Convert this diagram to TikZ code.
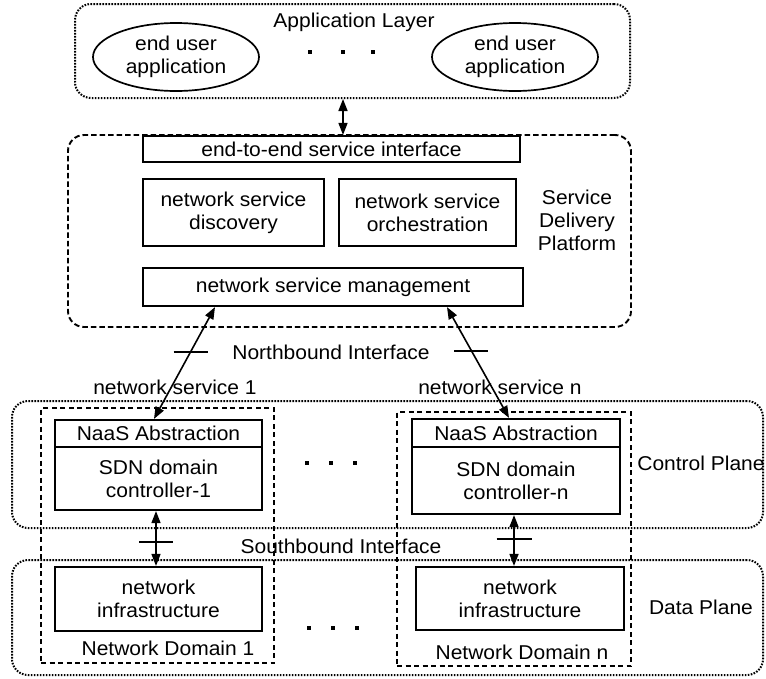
\documentclass[tikz,border=0pt]{standalone}
\usepackage{fontspec}
\setmainfont[FakeStretch=1.05]{Liberation Sans}
\usetikzlibrary{arrows.meta,shapes.geometric,calc}

\tikzset{
  every node/.style={font=\fontsize{20}{23}\selectfont, align=center, inner sep=0pt},
  box/.style={draw, line width=2.2pt, rectangle},
  appnode/.style={draw, line width=1.7pt, ellipse, minimum width=166pt, minimum height=68pt},
  dotframe/.style={draw, line width=2pt, dash pattern=on 1.6pt off 1.4pt, rounded corners=16pt},
  dashframe/.style={draw, line width=1.9pt, dash pattern=on 5.5pt off 3pt, rounded corners=16pt},
  domframe/.style={draw, line width=1.7pt, dash pattern=on 5pt off 3.5pt},
  link/.style={line width=1.6pt, {Triangle[length=12pt,width=9pt]}-{Triangle[length=12pt,width=9pt]}},
  tickmark/.style={line width=2pt},
  dotmark/.style={fill, rectangle, minimum size=4pt, inner sep=0pt},
}

\begin{document}
\begin{tikzpicture}[x=1pt, y=-1pt]
\useasboundingbox (0,0) rectangle (766,678);

% ---------- layer frames ----------
\node[dotframe, minimum width=555pt, minimum height=94pt] (applayer) at (352.5,51) {};
\node[dashframe, minimum width=563pt, minimum height=192pt] (sdp) at (349.5,231) {};
\node[dotframe, minimum width=751pt, minimum height=127pt] (ctrl) at (387.5,464.5) {};
\node[dotframe, minimum width=751pt, minimum height=115pt] (data) at (387.5,617.5) {};
\node[domframe, minimum width=233pt, minimum height=255pt] (dom1) at (157.5,535.5) {};
\node[domframe, minimum width=234pt, minimum height=254pt] (domn) at (514,539) {};

% ---------- application layer ----------
\node (applbl) at (354,22) {Application Layer};
\node[appnode] (app1) at (176,57) {end user\\application};
\node[appnode] (appn) at (515,57) {end user\\application};
\node[dotmark] (ad1) at (310,52) {};
\node[dotmark] (ad2) at (343,52) {};
\node[dotmark] (ad3) at (373,52) {};

% ---------- service delivery platform ----------
\node[box, minimum width=377pt, minimum height=26pt] (e2e) at (331.5,149) {end-to-end service interface};
\node[box, minimum width=181pt, minimum height=67pt] (disc) at (233.5,212.5) {network service\\discovery};
\node[box, minimum width=177pt, minimum height=67pt] (orch) at (427.5,212.5) {network service\\orchestration};
\node[box, minimum width=380pt, minimum height=38pt] (mgmt) at (333,287) {network service management};
\node (sdplbl) at (577,220) {Service\\Delivery\\Platform};

% ---------- control plane ----------
\node[box, minimum width=207pt, minimum height=27pt] (naas1) at (158.5,433.5) {NaaS Abstraction};
\node[box, minimum width=207pt, minimum height=63pt] (sdn1) at (158.5,478.5) {SDN domain\\controller-1};
\node[box, minimum width=208pt, minimum height=28pt] (naasn) at (516,433) {NaaS Abstraction};
\node[box, minimum width=208pt, minimum height=67pt] (sdnn) at (516,480.5) {SDN domain\\controller-n};
\node (ctrllbl) at (701,463) {Control Plane};
\node[dotmark] (cd1) at (307,463) {};
\node[dotmark] (cd2) at (331,463) {};
\node[dotmark] (cd3) at (355,463) {};

% ---------- data plane ----------
\node[box, minimum width=207pt, minimum height=64pt] (infra1) at (158.5,599) {network\\infrastructure};
\node[box, minimum width=208pt, minimum height=63pt] (infran) at (520,598.5) {network\\infrastructure};
\node (datalbl) at (701,607) {Data Plane};
\node (nd1) at (168,648) {Network Domain 1};
\node (ndn) at (522,652) {Network Domain n};
\node[dotmark] (dd1) at (309,628) {};
\node[dotmark] (dd2) at (333,628) {};
\node[dotmark] (dd3) at (357,628) {};

% ---------- interface labels ----------
\node (nblbl) at (331,352) {Northbound Interface};
\node (ns1) at (175,387) {network service 1};
\node (nsn) at (500,387) {network service n};
\node (sblbl) at (341,546) {Southbound Interface};

% ---------- connectors ----------
\coordinate (xapp) at (343,0);
\coordinate (xnbLlow) at (154,0);
\coordinate (xnbLhigh) at (215,0);
\coordinate (xnbRlow) at (509,0);
\coordinate (xnbRhigh) at (447,0);
\coordinate (xsbL) at (156,0);
\coordinate (xsbR) at (514,0);

\draw[link] (applayer.south -| xapp) -- (e2e.north -| xapp);

\draw[link] (naas1.north -| xnbLlow) -- (mgmt.south -| xnbLhigh)
  coordinate[pos=0.60] (tnbL);
\draw[link] (naasn.north -| xnbRlow) -- (mgmt.south -| xnbRhigh)
  coordinate[pos=0.607] (tnbR);
\draw[link] (sdn1.south -| xsbL) -- (infra1.north -| xsbL)
  coordinate[pos=0.56] (tsbL);
\draw[link] (sdnn.south -| xsbR) -- (infran.north -| xsbR)
  coordinate[pos=0.47] (tsbR);

% interface tick marks
\draw[tickmark] ([xshift=-17pt]tnbL) -- ([xshift=17pt]tnbL);
\draw[tickmark] ([xshift=-17pt]tnbR) -- ([xshift=17pt]tnbR);
\draw[tickmark] ([xshift=-17pt]tsbL) -- ([xshift=17pt]tsbL);
\draw[tickmark] ([xshift=-17.5pt]tsbR) -- ([xshift=17.5pt]tsbR);
\end{tikzpicture}
\end{document}
